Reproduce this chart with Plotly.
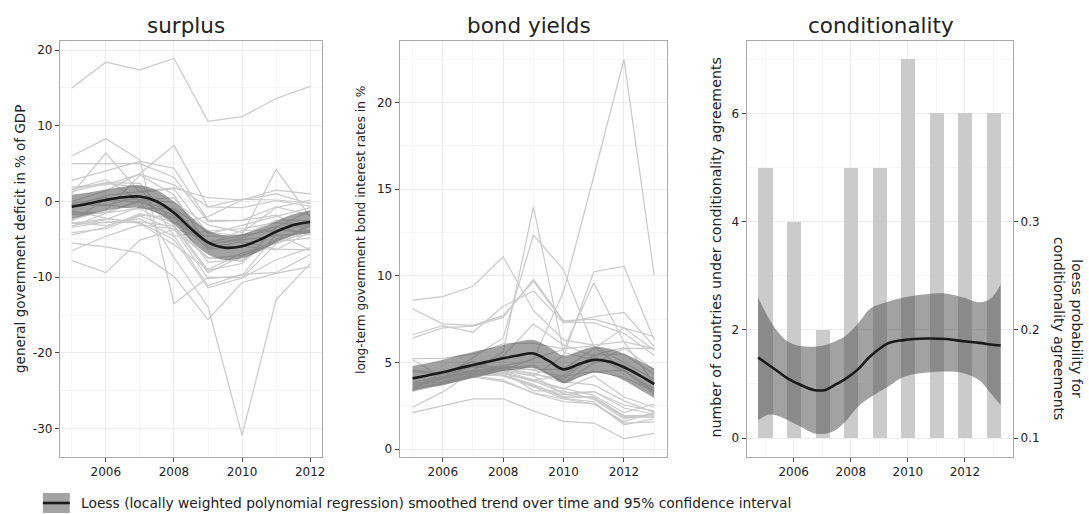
import plotly.graph_objects as go

# ---------------- data ----------------
SURPLUS_YEARS = [2005, 2006, 2007, 2008, 2009, 2010, 2011, 2012]
surplus_by_country = {
    "Norway":      [15.0, 18.4, 17.4, 18.9, 10.6, 11.2, 13.6, 15.2],
    "Iceland":     [6.0, 8.3, 5.5, -13.5, -10.0, -10.1, -5.6, -3.8],
    "Ireland":     [1.6, 2.9, 0.1, -7.4, -13.9, -30.9, -13.0, -8.2],
    "Greece":      [-5.5, -6.0, -6.8, -9.9, -15.6, -10.7, -9.5, -8.6],
    "Spain":       [1.3, 2.4, 1.9, -4.5, -11.1, -9.6, -9.4, -7.0],
    "UK":          [-3.4, -2.7, -2.8, -5.0, -11.4, -10.1, -7.7, -6.1],
    "Portugal":    [-6.5, -4.6, -3.1, -3.6, -10.2, -9.8, -4.3, -6.4],
    "Hungary":     [-7.8, -9.4, -5.1, -3.7, -4.6, -4.4, 4.2, -2.0],
    "Denmark":     [5.0, 5.0, 5.0, 3.2, -2.7, -2.5, -1.8, -4.1],
    "Finland":     [2.8, 4.0, 5.3, 4.4, -2.5, -2.5, -0.7, -1.8],
    "Luxembourg":  [0.0, 1.4, 3.7, 7.4, -0.7, -0.8, 0.1, -0.6],
    "Sweden":      [1.9, 2.2, 3.6, 2.2, -0.7, 0.3, 0.2, -0.2],
    "Switzerland": [-0.7, 0.8, 1.3, 1.8, 0.5, 0.2, 1.5, 1.0],
    "Bulgaria":    [1.0, 6.4, 1.2, 1.7, -4.3, -3.1, -2.0, -0.8],
    "Estonia":     [1.6, 2.5, 2.4, -2.9, -2.0, 0.2, 1.0, -0.3],
    "Cyprus":      [-2.4, -1.2, 3.5, 0.9, -6.1, -5.3, -6.3, -6.4],
    "Germany":     [-3.3, -1.6, 0.2, -0.1, -3.1, -4.1, -0.8, 0.2],
    "Belgium":     [-2.6, 0.3, -0.1, -1.0, -5.6, -3.8, -3.8, -4.0],
    "Netherlands": [-0.3, 0.5, 0.2, 0.5, -5.6, -5.1, -4.5, -4.1],
    "Austria":     [-1.7, -1.5, -0.9, -0.9, -4.1, -4.5, -2.5, -2.5],
    "France":      [-2.9, -2.3, -2.7, -3.3, -7.5, -7.1, -5.3, -4.8],
    "Italy":       [-4.4, -3.4, -1.6, -2.7, -5.4, -4.5, -3.8, -3.0],
    "Malta":       [-2.9, -2.8, -2.3, -4.6, -3.9, -3.6, -2.8, -3.3],
    "Czechia":     [-3.2, -2.4, -0.7, -2.2, -5.8, -4.8, -3.3, -4.4],
    "Slovakia":    [-2.8, -3.2, -1.8, -2.1, -8.0, -7.7, -5.1, -4.3],
    "Slovenia":    [-1.5, -1.4, 0.0, -1.9, -6.3, -5.9, -6.4, -4.0],
    "Poland":      [-4.1, -3.6, -1.9, -3.7, -7.4, -7.9, -5.0, -3.9],
    "Latvia":      [-0.4, -0.5, 0.6, -3.1, -9.1, -8.2, -3.4, -1.2],
    "Lithuania":   [-0.5, -0.4, -1.0, -3.3, -9.4, -7.2, -5.5, -3.2],
    "Romania":     [-1.2, -2.2, -2.9, -5.7, -9.0, -6.8, -5.5, -3.0],
}
SURPLUS_TICKS = [-30, -20, -10, 0, 10, 20]
SURPLUS_TICK_LABELS = ["-30", "-20", "-10", "0", "10", "20"]
SURPLUS_TREND_YEARS = [2005, 2005.5, 2006, 2006.5, 2007, 2007.5, 2008, 2008.5,
                       2009, 2009.5, 2010, 2010.5, 2011, 2011.5, 2012]
surplus_fit = [-0.7, -0.27, 0.2, 0.55, 0.65, 0.0, -1.5, -3.6, -5.4, -6.1, -5.9, -5.1, -4.0, -3.1, -2.7]
surplus_hi = [0.9, 1.2, 1.6, 1.95, 2.15, 1.5, 0.0, -2.0, -3.8, -4.5, -4.3, -3.6, -2.6, -1.7, -1.2]
surplus_lo = [-2.3, -1.75, -1.2, -0.85, -0.85, -1.5, -3.0, -5.2, -7.0, -7.7, -7.5, -6.6, -5.4, -4.5, -4.2]

BOND_YEARS = [2005, 2006, 2007, 2008, 2009, 2010, 2011, 2012, 2013]
bonds_by_country = {
    "Greece":      [3.59, 4.07, 4.50, 4.80, 5.17, 9.09, 15.75, 22.50, 10.05],
    "Portugal":    [3.44, 3.91, 4.42, 4.52, 4.21, 5.40, 10.24, 10.55, 6.29],
    "Ireland":     [3.33, 3.76, 4.31, 4.53, 5.23, 5.74, 9.60, 6.17, 3.79],
    "Hungary":     [6.60, 7.12, 6.74, 8.24, 9.12, 7.28, 7.64, 7.89, 5.92],
    "Romania":     [8.10, 7.23, 7.14, 7.70, 9.69, 7.34, 7.29, 6.68, 5.41],
    "Iceland":     [8.60, 8.80, 9.40, 11.10, 8.00, 6.30, 6.00, 6.20, 5.80],
    "Lithuania":   [3.70, 4.08, 4.55, 5.61, 14.00, 5.57, 5.16, 4.83, 3.83],
    "Latvia":      [3.88, 4.13, 5.28, 6.43, 12.36, 10.34, 5.91, 4.57, 3.34],
    "Poland":      [5.22, 5.23, 5.48, 6.07, 6.12, 5.78, 5.96, 5.00, 4.03],
    "Slovenia":    [3.81, 3.85, 4.53, 4.61, 4.38, 3.83, 4.97, 5.81, 5.81],
    "Cyprus":      [5.16, 4.13, 4.48, 4.60, 4.60, 4.60, 5.79, 7.00, 6.50],
    "Bulgaria":    [3.87, 4.18, 4.54, 5.38, 7.22, 6.01, 5.36, 4.50, 3.47],
    "Italy":       [3.56, 4.05, 4.49, 4.68, 4.31, 4.04, 5.42, 5.49, 4.32],
    "Spain":       [3.39, 3.78, 4.31, 4.37, 3.98, 4.25, 5.44, 5.85, 4.56],
    "Germany":     [3.35, 3.76, 4.22, 3.98, 3.22, 2.74, 2.61, 1.50, 1.57],
    "France":      [3.41, 3.80, 4.30, 4.23, 3.65, 3.12, 3.32, 2.54, 2.20],
    "Netherlands": [3.37, 3.78, 4.29, 4.23, 3.69, 2.99, 2.99, 1.93, 1.96],
    "Belgium":     [3.43, 3.82, 4.33, 4.42, 3.90, 3.46, 4.23, 3.00, 2.41],
    "Austria":     [3.39, 3.80, 4.30, 4.36, 3.94, 3.23, 3.32, 2.37, 2.01],
    "Finland":     [3.35, 3.78, 4.29, 4.29, 3.74, 3.01, 3.01, 1.89, 1.86],
    "Denmark":     [3.40, 3.81, 4.29, 4.28, 3.59, 2.93, 2.73, 1.40, 1.75],
    "Sweden":      [3.38, 3.70, 4.17, 3.89, 3.25, 2.89, 2.61, 1.59, 2.12],
    "UK":          [4.46, 4.37, 5.06, 4.50, 3.36, 3.36, 2.87, 1.74, 2.03],
    "Czechia":     [3.51, 3.78, 4.30, 4.63, 4.84, 3.88, 3.71, 2.78, 2.11],
    "Slovakia":    [3.52, 4.41, 4.49, 4.72, 4.71, 3.87, 4.45, 4.55, 3.19],
    "Luxembourg":  [2.41, 3.30, 4.46, 4.61, 4.23, 3.17, 2.92, 1.82, 1.85],
    "Malta":       [4.56, 4.32, 4.72, 4.81, 4.54, 4.19, 4.49, 4.13, 3.36],
    "Switzerland": [2.10, 2.50, 2.90, 2.90, 2.20, 1.60, 1.50, 0.60, 0.90],
    "Norway":      [3.70, 4.10, 4.80, 4.50, 4.00, 3.50, 3.10, 2.10, 2.60],
    "Croatia":     [6.40, 7.00, 7.10, 7.60, 9.80, 7.40, 7.50, 7.00, 5.70],
}
BOND_TREND_YEARS = [2005, 2005.5, 2006, 2006.5, 2007, 2007.5, 2008, 2008.5, 2009,
                    2009.5, 2010, 2010.5, 2011, 2011.5, 2012, 2012.5, 2013]
bond_fit = [4.08, 4.25, 4.43, 4.65, 4.85, 5.05, 5.24, 5.4, 5.52, 5.1, 4.6, 4.9, 5.15, 5.05, 4.72, 4.27, 3.75]
bond_hi = [4.8, 4.95, 5.15, 5.4, 5.6, 5.8, 6.0, 6.2, 6.3, 5.9, 5.4, 5.65, 5.9, 5.8, 5.5, 5.1, 4.65]
bond_lo = [3.35, 3.55, 3.7, 3.9, 4.1, 4.3, 4.5, 4.6, 4.7, 4.3, 3.8, 4.15, 4.4, 4.3, 3.95, 3.45, 2.95]

COND_YEARS = [2005, 2006, 2007, 2008, 2009, 2010, 2011, 2012, 2013]
cond_counts = [5, 4, 2, 5, 5, 7, 6, 6, 6]
COND_TREND_YEARS = [2004.75, 2005.1, 2005.45, 2005.8, 2006.25, 2006.7, 2007.1, 2007.5, 2007.8, 2008.25,
                    2008.7, 2009.3, 2009.85, 2010.65, 2011.35, 2011.95, 2012.5, 2012.9, 2013.25]
cond_prob_fit = [0.1745, 0.168, 0.1615, 0.155, 0.149, 0.1445, 0.1445, 0.15, 0.1545, 0.1635,
                 0.176, 0.1875, 0.1905, 0.192, 0.1915, 0.1895, 0.188, 0.1865, 0.1855]
cond_prob_hi = [0.230, 0.212, 0.198, 0.189, 0.185, 0.1845, 0.186, 0.190, 0.194, 0.206,
                0.220, 0.226, 0.230, 0.233, 0.2335, 0.230, 0.2255, 0.229, 0.242]
cond_prob_lo = [0.1165, 0.1215, 0.1205, 0.1165, 0.1105, 0.1045, 0.104, 0.108, 0.115, 0.129,
                0.138, 0.1475, 0.1565, 0.1605, 0.1615, 0.160, 0.1535, 0.1415, 0.1305]

PANEL_TITLES = ["surplus", "bond yields", "conditionality"]
LEGEND_TEXT = ("Loess (locally weighted polynomial regression) smoothed trend over time "
               "and 95% confidence interval")

# ---------------- style ----------------
W, H = 1089, 514
FONT = "DejaVu Sans"
LINE_GREY = "#c9c9c9"
BAND = "rgba(84,84,84,0.54)"
BAND_SOLID = "#a3a3a3"
TREND = "#1a1a1a"
BAR_GREY = "#cbcbcb"
GRID = "#ececec"
GRID_MINOR = "#f6f6f6"
BORDER = "#a9a9a9"
TICKCOL = "#444444"
TEXTCOL = "#222222"


def px_x(p):
    return p / W


def px_y(p):
    return 1 - p / H


fig = go.Figure()


def add_country_lines(years, table, xa, ya):
    for name, vals in table.items():
        fig.add_trace(go.Scatter(x=years, y=vals, mode="lines", name=name,
                                 line=dict(color=LINE_GREY, width=1.2),
                                 xaxis=xa, yaxis=ya, showlegend=False, hoverinfo="skip"))


def add_trend(years, fit, lo, hi, xa, ya):
    fig.add_trace(go.Scatter(x=years, y=lo, mode="lines", line=dict(width=0, shape="spline"),
                             xaxis=xa, yaxis=ya, showlegend=False, hoverinfo="skip"))
    fig.add_trace(go.Scatter(x=years, y=hi, mode="lines", line=dict(width=0, shape="spline"),
                             fill="tonexty", fillcolor=BAND,
                             xaxis=xa, yaxis=ya, showlegend=False, hoverinfo="skip"))
    fig.add_trace(go.Scatter(x=years, y=fit, mode="lines",
                             line=dict(color=TREND, width=2.6, shape="spline"),
                             xaxis=xa, yaxis=ya, showlegend=False, hoverinfo="skip"))


# panel 1: surplus
add_country_lines(SURPLUS_YEARS, surplus_by_country, "x", "y")
add_trend(SURPLUS_TREND_YEARS, surplus_fit, surplus_lo, surplus_hi, "x", "y")

# panel 2: bond yields
add_country_lines(BOND_YEARS, bonds_by_country, "x2", "y2")
add_trend(BOND_TREND_YEARS, bond_fit, bond_lo, bond_hi, "x2", "y2")

# panel 3: conditionality bars + loess probability on the secondary axis
fig.add_trace(go.Bar(x=COND_YEARS, y=cond_counts, width=0.5, marker_color=BAR_GREY,
                     marker_line_width=0, xaxis="x3", yaxis="y3", showlegend=False))
add_trend(COND_TREND_YEARS, cond_prob_fit, cond_prob_lo, cond_prob_hi, "x3", "y4")

tickfont = dict(family=FONT, size=12, color=TEXTCOL)


def xaxis_cfg(domain, rng, anchor):
    return dict(domain=domain, range=rng, anchor=anchor, tick0=2006, dtick=2,
                showgrid=True, gridcolor=GRID, gridwidth=1, zeroline=False,
                minor=dict(dtick=1, tick0=2005, showgrid=True, gridcolor=GRID_MINOR, ticks=""),
                showline=True, mirror=True, linecolor=BORDER, linewidth=1,
                ticks="outside", ticklen=4, tickcolor=TICKCOL, tickfont=tickfont)


def yaxis_cfg(domain, rng, anchor, dtick, minor):
    return dict(domain=domain, range=rng, anchor=anchor, dtick=dtick, tick0=0,
                showgrid=True, gridcolor=GRID, gridwidth=1, zeroline=False,
                minor=dict(dtick=minor, tick0=0, showgrid=True, gridcolor=GRID_MINOR, ticks=""),
                showline=True, mirror=True, linecolor=BORDER, linewidth=1,
                ticks="outside", ticklen=4, tickcolor=TICKCOL, tickfont=tickfont)


ydom = [px_y(457), px_y(41)]
yaxis1 = yaxis_cfg(ydom, [-33.75, 21.2], "x", 10, 5)
# plain hyphen-minus labels on the surplus axis
yaxis1.update(tickmode="array", tickvals=SURPLUS_TICKS, ticktext=SURPLUS_TICK_LABELS)

fig.update_layout(
    width=W, height=H, margin=dict(l=0, r=0, t=0, b=0),
    paper_bgcolor="white", plot_bgcolor="white", showlegend=False,
    font=dict(family=FONT, color=TEXTCOL),
    xaxis=xaxis_cfg([px_x(60), px_x(323)], [2004.65, 2012.35], "y"),
    yaxis=yaxis1,
    xaxis2=xaxis_cfg([px_x(400.7), px_x(669)], [2004.57, 2013.43], "y2"),
    yaxis2=yaxis_cfg(ydom, [-0.46, 23.56], "x2", 5, 2.5),
    xaxis3=xaxis_cfg([px_x(748.7), px_x(1016)], [2004.35, 2013.69], "y3"),
    yaxis3=yaxis_cfg(ydom, [-0.35, 7.34], "x3", 2, 1),
    yaxis4=dict(domain=ydom, range=[0.1 - 0.35 * 0.05, 0.1 + 7.34 * 0.05], anchor="x3",
                overlaying="y3", side="right", tickvals=[0.1, 0.2, 0.3],
                ticktext=["0.1", "0.2", "0.3"], showgrid=False, zeroline=False,
                showline=False, ticks="outside", ticklen=4, tickcolor=TICKCOL,
                tickfont=tickfont),
    bargap=0,
)

# panel titles
title_x = [186.7, 530.5, 883.0]
for t, cx in zip(PANEL_TITLES, title_x):
    fig.add_annotation(text=t, x=px_x(cx), y=px_y(25), xref="paper", yref="paper",
                       xanchor="center", yanchor="middle", showarrow=False,
                       font=dict(family=FONT, size=21.5, color=TEXTCOL))

# axis titles
axis_titles = [
    ("general government deficit in % of GDP", 20, 239, 13.5, -90),
    ("long-term government bond interest rates in %", 362, 230, 12.2, -90),
    ("number of countries under conditionality agreements", 717, 247.5, 14.2, -90),
    ("loess probability for<br>conditionality agreements", 1071, 328, 14.0, 90),
]
for txt, cx, cy, sz, ang in axis_titles:
    fig.add_annotation(text=txt, x=px_x(cx), y=px_y(cy), xref="paper", yref="paper",
                       xanchor="center", yanchor="middle", showarrow=False, textangle=ang,
                       font=dict(family=FONT, size=sz, color=TEXTCOL))

# legend key: shaded box with trend line, plus its label
fig.add_shape(type="rect", xref="paper", yref="paper",
              x0=px_x(43), x1=px_x(70), y0=px_y(513), y1=px_y(493),
              fillcolor=BAND_SOLID, line=dict(width=0))
fig.add_shape(type="line", xref="paper", yref="paper",
              x0=px_x(43), x1=px_x(70), y0=px_y(503), y1=px_y(503),
              line=dict(color=TREND, width=2.6))
fig.add_annotation(text=LEGEND_TEXT, x=px_x(79), y=px_y(503), xref="paper", yref="paper",
                   xanchor="left", yanchor="middle", showarrow=False,
                   font=dict(family=FONT, size=13.8, color=TEXTCOL))

fig.write_html("out.html")
